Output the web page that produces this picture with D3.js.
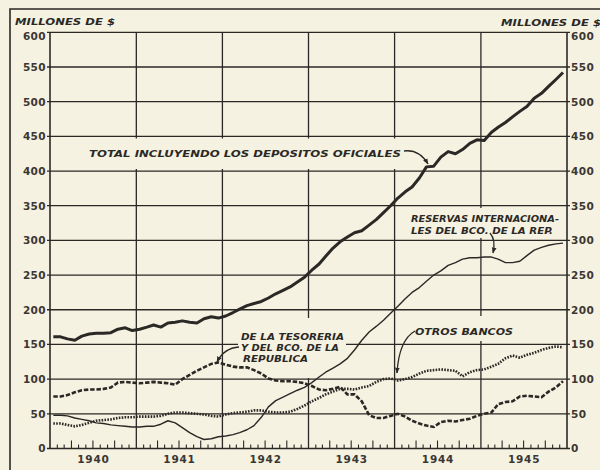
<!DOCTYPE html>
<html>
<head>
<meta charset="utf-8">
<script src="https://cdn.jsdelivr.net/npm/d3@7/dist/d3.min.js"></script>
<style>
  html,body{margin:0;padding:0;background:#f6f2e1;}
  svg{display:block;}
</style>
</head>
<body>
<svg id="chart" width="600" height="470"></svg>
<script>
// ---------- DATA (millones de $, monthly Jan 1940 – Dec 1945) ----------
const years = [1940, 1941, 1942, 1943, 1944, 1945];
const yearLabels = ["1940", "1941", "1942", "1943", "1944", "1945"];
const yTicks = [0, 50, 100, 150, 200, 250, 300, 350, 400, 450, 500, 550, 600];
const unitLabel = "MILLONES DE $";

const total = [
  161,161,158,156,162,165,166,166,167,172,174,170,
  172,175,178,175,181,182,184,182,181,187,190,188,
  191,196,201,206,209,212,217,223,228,233,240,247,
  257,266,277,289,298,305,311,314,322,330,340,350,
  361,370,377,390,406,407,420,428,425,431,440,445,
  444,456,463,470,478,486,493,505,512,522,532,542
];
const reservas = [
  48,48,47,44,42,40,37,36,34,33,32,31,
  31,32,32,35,40,37,30,23,17,13,14,17,
  18,20,23,27,33,45,60,69,74,79,84,88,
  95,103,110,116,122,130,142,156,168,176,185,195,
  205,216,225,232,241,250,256,264,268,273,275,275,
  276,276,273,268,268,270,278,286,290,293,295,296
];
const tesoreria = [
  75,75,77,81,84,85,85,86,88,95,96,95,
  94,95,96,95,94,92,100,106,112,117,122,124,
  121,118,117,117,113,108,101,98,97,97,96,94,
  90,85,84,86,89,78,78,68,48,44,44,47,
  50,46,40,36,33,31,38,40,39,41,43,47,
  50,52,64,67,68,75,76,75,74,82,88,97
];
const otros = [
  36,36,34,32,34,37,40,41,42,44,45,45,
  46,46,46,47,50,52,52,51,50,49,47,46,
  49,51,52,53,55,55,53,52,52,53,57,62,
  68,73,78,82,86,86,85,88,90,96,100,101,
  98,100,103,108,112,113,114,113,112,104,110,113,
  114,118,122,130,134,131,135,138,142,145,147,146
];

// ---------- SETUP ----------
const svg = d3.select("#chart");
const ink = "#2b2926";
const paper = "#f6f2e1";
const L = 50, R = 567, T = 32.3, B = 448.5;

const months = [];
years.forEach(yr => { for (let m = 0; m < 12; m++) months.push(new Date(yr, m, 15)); });

const x = d3.scaleTime()
  .domain([new Date(years[0], 0, 1), new Date(years[years.length - 1] + 1, 0, 1)])
  .range([L, R]);
const y = d3.scaleLinear().domain([0, 600]).range([B, T]);

// outer frame
svg.append("path").attr("d", `M10,470 V9 H600`).attr("fill", "none")
  .attr("stroke", ink).attr("stroke-width", 1.6);

// ---------- GRID ----------
const grid = svg.append("g");
grid.selectAll("line.h").data(yTicks).join("line")
  .attr("x1", L - 3).attr("x2", R + 3)
  .attr("y1", d => y(d)).attr("y2", d => y(d))
  .attr("stroke", ink).attr("stroke-width", d => (d === 0 ? 1.6 : 1.3));

const yearBounds = d3.timeYear.range(x.domain()[0], d3.timeYear.offset(x.domain()[1], 1));
grid.selectAll("line.v").data(yearBounds).join("line")
  .attr("x1", d => x(d)).attr("x2", d => x(d))
  .attr("y1", T).attr("y2", B)
  .attr("stroke", ink).attr("stroke-width", (d, i) => (i === 0 || i === yearBounds.length - 1 ? 1.6 : 1.3));

// month ticks on baseline
const monthTicks = d3.timeMonth.range(x.domain()[0], x.domain()[1]).filter(d => d.getMonth() !== 0);
grid.selectAll("line.mt").data(monthTicks).join("line")
  .attr("x1", d => x(d)).attr("x2", d => x(d))
  .attr("y1", B).attr("y2", d => B - (d.getMonth() % 3 === 0 ? 8 : 4))
  .attr("stroke", ink).attr("stroke-width", 1.1);

// ---------- AXIS LABELS ----------
const tickFont = "'DejaVu Sans', sans-serif";
const yLeft = d3.axisLeft(y).tickValues(yTicks).tickSize(0).tickPadding(4);
const gL = svg.append("g").attr("transform", `translate(${L},0)`).call(yLeft);
const yRight = d3.axisRight(y).tickValues(yTicks).tickSize(0).tickPadding(4);
const gR = svg.append("g").attr("transform", `translate(${R},0)`).call(yRight);
[gL, gR].forEach(g => {
  g.select(".domain").remove();
  g.selectAll("text").attr("font-family", tickFont).attr("font-size", 10.5)
    .attr("font-weight", "bold").attr("fill", "#3a3733").attr("letter-spacing", 0.4);
  // top label sits just below the top rule, as in the original
  g.selectAll(".tick").filter(d => d === 600).select("text").attr("dy", "0.32em").attr("y", 4);
});

const xAxis = d3.axisBottom(x)
  .tickValues(years.map(yr => new Date(yr, 6, 1)))
  .tickFormat((d, i) => yearLabels[i]).tickSize(0).tickPadding(7);
const gX = svg.append("g").attr("transform", `translate(0,${B})`).call(xAxis);
gX.select(".domain").remove();
gX.selectAll("text").attr("font-family", tickFont).attr("font-size", 10.5)
  .attr("font-weight", "bold").attr("fill", "#3a3733").attr("letter-spacing", 0.8);

const annFont = "'DejaVu Sans', sans-serif";
function label(txt, xx, yy, len, size) {
  return svg.append("text").attr("x", xx).attr("y", yy)
    .attr("font-family", annFont).attr("font-size", size || 9).attr("font-weight", "bold")
    .attr("font-style", "italic").attr("fill", ink)
    .attr("textLength", len).attr("lengthAdjust", "spacingAndGlyphs")
    .text(txt);
}
label(unitLabel, 15, 25, 100, 8.5);
label(unitLabel, 501, 26, 100, 8.5);

// ---------- LABEL BACKGROUNDS (break gridlines behind text) ----------
const bg = svg.append("g");
bg.append("rect").attr("x", 52).attr("y", 138.5).attr("width", 350).attr("height", 30.5).attr("fill", paper);
bg.append("rect").attr("x", 408).attr("y", 208).attr("width", 155).attr("height", 30).attr("fill", paper);
bg.append("rect").attr("x", 238).attr("y", 318).attr("width", 108).attr("height", 60).attr("fill", paper);
bg.append("rect").attr("x", 412).attr("y", 316).attr("width", 104).attr("height", 25).attr("fill", paper);

// ---------- SERIES ----------
const line = d3.line().x((d, i) => x(months[i])).y(d => y(d)).curve(d3.curveLinear);

svg.append("path").datum(otros).attr("d", line).attr("fill", "none")
  .attr("stroke", ink).attr("stroke-width", 2.6).attr("stroke-dasharray", "1.6,1.3");
svg.append("path").datum(tesoreria).attr("d", line).attr("fill", "none")
  .attr("stroke", ink).attr("stroke-width", 2.6).attr("stroke-dasharray", "4.5,1.8");
svg.append("path").datum(reservas).attr("d", line).attr("fill", "none")
  .attr("stroke", ink).attr("stroke-width", 1.4).attr("stroke-linejoin", "round");
svg.append("path").datum(total).attr("d", line).attr("fill", "none")
  .attr("stroke", ink).attr("stroke-width", 3).attr("stroke-linejoin", "round");

// ---------- ANNOTATIONS ----------
label("TOTAL INCLUYENDO LOS DEPOSITOS OFICIALES", 89, 157, 312);
label("RESERVAS INTERNACIONA-", 411, 222, 148);
label("LES DEL BCO. DE LA REP.", 411, 233.5, 142);
label("DE LA TESORERIA", 241, 339.5, 103);
label("Y DEL BCO. DE LA", 241, 350.5, 98);
label("REPUBLICA", 243, 361.5, 65);
label("OTROS BANCOS", 415, 335, 98);

const defs = svg.append("defs");
defs.append("marker").attr("id", "ah").attr("viewBox", "0 0 10 10")
  .attr("refX", 9).attr("refY", 5).attr("markerWidth", 6).attr("markerHeight", 6)
  .attr("markerUnits", "userSpaceOnUse").attr("orient", "auto")
  .append("path").attr("d", "M0,1 L10,5 L0,9 Z").attr("fill", ink);

const arrows = [
  "M404,151 Q419,149 428,164",
  "M490,233 Q496,240 493,253",
  "M415,331 Q399,340 397,373",
  "M239,347 Q224,348 217,362"
];
svg.selectAll("path.arrow").data(arrows).join("path")
  .attr("d", d => d).attr("fill", "none").attr("stroke", ink)
  .attr("stroke-width", 1.3).attr("marker-end", "url(#ah)");
</script>
</body>
</html>
